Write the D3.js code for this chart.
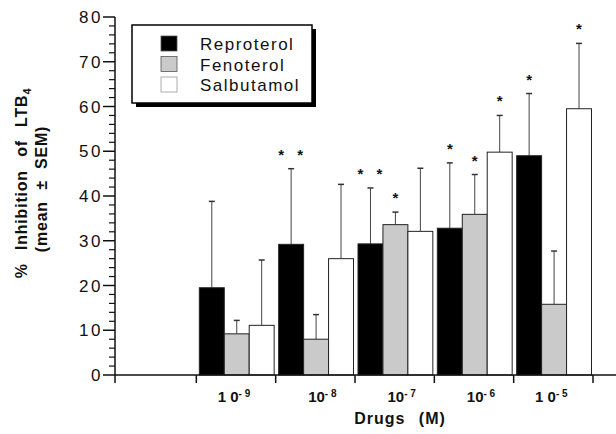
<!DOCTYPE html>
<html>
<head>
<meta charset="utf-8">
<script src="https://cdn.jsdelivr.net/npm/d3@7"></script>
<style>
  body { margin: 0; background: #fff; }
  text { font-family: "Liberation Sans", Arial, Helvetica, sans-serif; fill: #111; }
</style>
</head>
<body>
<div id="vis-holder"></div>
<script>
// Data
const drugs = ["Reproterol", "Fenoterol", "Salbutamol"];
const doseBase = ["1 0", "10", "10", "10", "1 0"];
const doseExp = ["- 9", "- 8", "- 7", "- 6", "- 5"];

const reproterol = [19.5, 29.2, 29.3, 32.8, 49.0];
const fenoterol = [9.2, 8.0, 33.6, 35.9, 15.8];
const salbutamol = [11.1, 26.0, 32.1, 49.8, 59.5];

const reproterolSem = [19.3, 16.9, 12.5, 14.6, 13.9];
const fenoterolSem = [3.0, 5.5, 2.8, 8.9, 11.9];
const salbutamolSem = [14.6, 16.6, 14.1, 8.2, 14.6];

// number of asterisks above each bar
const reproterolStars = [0, 2, 2, 1, 1];
const fenoterolStars = [0, 0, 1, 1, 0];
const salbutamolStars = [0, 0, 0, 1, 1];

const yTicks = [0, 10, 20, 30, 40, 50, 60, 70, 80];

const width = 616;
const height = 434;
const margin = { top: 17, right: 0, bottom: 59, left: 115 };

const color = d3.scaleOrdinal()
                .domain(drugs)
                .range(["#000000", "#cacaca", "#ffffff"]);

const svg = d3.select("#vis-holder")
              .append("svg")
              .attr("width", width)
              .attr("height", height);

// one empty slot before the first dose, as in the original
const slots = ["none"].concat(doseExp);
const x = d3.scaleBand()
            .domain(slots)
            .range([margin.left + 2, 593])
            .padding(0);

const xInner = d3.scaleBand()
                 .domain(drugs)
                 .range([3, x.bandwidth() - 1.5]);

const y = d3.scaleLinear()
            .domain([0, 80])
            .range([height - margin.bottom, margin.top]);

const y0 = y(0);

// Build rows
const series = [
  { name: "Reproterol", values: reproterol, sem: reproterolSem, stars: reproterolStars },
  { name: "Fenoterol", values: fenoterol, sem: fenoterolSem, stars: fenoterolStars },
  { name: "Salbutamol", values: salbutamol, sem: salbutamolSem, stars: salbutamolStars }
];
const rows = [];
series.forEach((s) => {
  s.values.forEach((v, i) => {
    rows.push({ drug: s.name, dose: doseExp[i], value: v, sem: s.sem[i], stars: s.stars[i] });
  });
});
const bx = (d) => x(d.dose) + xInner(d.drug);
const bc = (d) => bx(d) + xInner.bandwidth() / 2;

// Error bars (drawn first so bars sit on top)
svg.append("g")
  .selectAll("line")
  .data(rows)
  .enter()
  .append("line")
    .attr("x1", bc).attr("x2", bc)
    .attr("y1", (d) => y(d.value))
    .attr("y2", (d) => y(d.value + d.sem))
    .attr("stroke", "#444")
    .attr("stroke-width", 1);

svg.append("g")
  .selectAll("line")
  .data(rows)
  .enter()
  .append("line")
    .attr("x1", (d) => bc(d) - 3).attr("x2", (d) => bc(d) + 3)
    .attr("y1", (d) => y(d.value + d.sem))
    .attr("y2", (d) => y(d.value + d.sem))
    .attr("stroke", "#333")
    .attr("stroke-width", 1.5);

// Bars
svg.append("g")
  .selectAll("rect")
  .data(rows)
  .enter()
  .append("rect")
    .attr("x", bx)
    .attr("y", (d) => y(d.value))
    .attr("width", xInner.bandwidth())
    .attr("height", (d) => y0 - y(d.value))
    .attr("fill", (d) => color(d.drug))
    .attr("stroke", "#222")
    .attr("stroke-width", 1);

// Asterisks
const starRows = [];
rows.forEach((d) => {
  if (d.stars === 1) starRows.push({ d: d, dx: 0 });
  if (d.stars === 2) { starRows.push({ d: d, dx: -10 }); starRows.push({ d: d, dx: 9 }); }
});
svg.append("g")
  .selectAll("text")
  .data(starRows)
  .enter()
  .append("text")
    .attr("x", (s) => bc(s.d) + s.dx)
    .attr("y", (s) => y(s.d.value + s.d.sem) - 9)
    .attr("text-anchor", "middle")
    .attr("font-size", "15px")
    .attr("font-weight", "bold")
    .text("*");

// Y axis
const ax = margin.left;
svg.append("line")
  .attr("x1", ax).attr("x2", ax)
  .attr("y1", y(80)).attr("y2", y0 + 8)
  .attr("stroke", "#111").attr("stroke-width", 1.5);

svg.append("g")
  .selectAll("line")
  .data(d3.range(0, 81, 2))
  .enter()
  .append("line")
    .attr("x1", (d) => (d % 10 === 0 ? ax - 12 : ax - 6))
    .attr("x2", ax)
    .attr("y1", (d) => y(d)).attr("y2", (d) => y(d))
    .attr("stroke", "#111")
    .attr("stroke-width", (d) => (d % 10 === 0 ? 1.5 : 1.2));

svg.append("g")
  .selectAll("text")
  .data(yTicks)
  .enter()
  .append("text")
    .attr("x", ax - 12)
    .attr("y", (d) => y(d))
    .attr("dy", "0.36em")
    .attr("text-anchor", "end")
    .attr("font-size", "17px")
    .attr("letter-spacing", "2.5px")
    .text((d) => d);

// X axis
svg.append("line")
  .attr("x1", ax).attr("x2", width)
  .attr("y1", y0).attr("y2", y0)
  .attr("stroke", "#111").attr("stroke-width", 1.5);

svg.append("g")
  .selectAll("line")
  .data(doseExp)
  .enter()
  .append("line")
    .attr("x1", (d) => x(d)).attr("x2", (d) => x(d))
    .attr("y1", y0).attr("y2", y0 + 8)
    .attr("stroke", "#111").attr("stroke-width", 1.5);
svg.append("line")
  .attr("x1", x.range()[1]).attr("x2", x.range()[1])
  .attr("y1", y0).attr("y2", y0 + 8)
  .attr("stroke", "#111").attr("stroke-width", 1.5);

const xl = svg.append("g")
  .selectAll("text")
  .data(doseExp)
  .enter()
  .append("text")
    .attr("x", (d, i) => x(d) + x.bandwidth() / 2 + (doseBase[i].includes(" ") ? -2 : 7))
    .attr("y", y0 + 27)
    .attr("text-anchor", "middle")
    .attr("font-size", "15px")
    .attr("font-weight", "bold");
xl.append("tspan").text((d, i) => doseBase[i]);
xl.append("tspan")
  .attr("dy", -5)
  .attr("font-size", "10px")
  .text((d) => d);

svg.append("text")
  .attr("x", 400)
  .attr("y", 424)
  .attr("text-anchor", "middle")
  .attr("font-size", "16px")
  .attr("font-weight", "bold")
  .attr("letter-spacing", "1px")
  .attr("word-spacing", "8px")
  .text("Drugs (M)");

// Y title
const t1 = svg.append("text")
  .attr("transform", "translate(27,183) rotate(-90)")
  .attr("text-anchor", "middle")
  .attr("font-size", "16px")
  .attr("font-weight", "bold")
  .attr("letter-spacing", "0.8px")
  .attr("word-spacing", "8px");
t1.append("tspan").text("% Inhibition of LTB");
t1.append("tspan").attr("dy", 4).attr("font-size", "11px").text("4");

svg.append("text")
  .attr("transform", "translate(47,189) rotate(-90)")
  .attr("text-anchor", "middle")
  .attr("font-size", "16px")
  .attr("font-weight", "bold")
  .attr("letter-spacing", "0.8px")
  .attr("word-spacing", "6px")
  .text("(mean ± SEM)");

// Legend
const legend = svg.append("g").attr("transform", "translate(132,25)");
legend.append("rect")
  .attr("x", 4).attr("y", 4)
  .attr("width", 180).attr("height", 78)
  .attr("fill", "#000");
legend.append("rect")
  .attr("width", 180).attr("height", 78)
  .attr("fill", "#fff")
  .attr("stroke", "#000")
  .attr("stroke-width", 1.5);

const li = legend.selectAll(".item")
  .data(drugs)
  .enter()
  .append("g")
    .attr("transform", (d, i) => `translate(29,${11 + i * 20.5})`);
li.append("rect")
  .attr("width", 16).attr("height", 15)
  .attr("fill", (d) => color(d))
  .attr("stroke", (d) => (d === "Salbutamol" ? "#999" : "#555"))
  .attr("stroke-width", 0.8);
li.append("text")
  .attr("x", 39)
  .attr("y", 14)
  .attr("font-size", "17px")
  .attr("letter-spacing", "1.5px")
  .text((d) => d);
</script>
</body>
</html>
